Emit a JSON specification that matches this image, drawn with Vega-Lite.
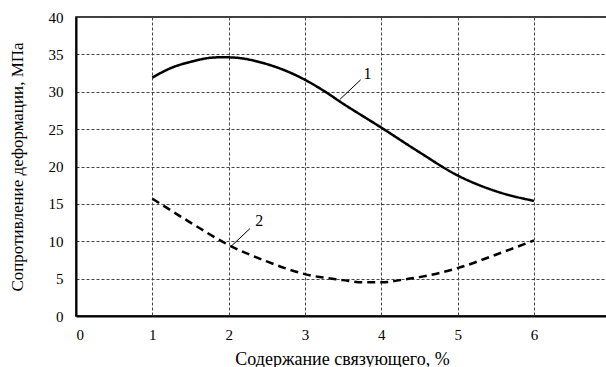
{
  "$schema": "https://vega.github.io/schema/vega-lite/v6.json",
  "width": 532,
  "height": 299,
  "autosize": {"type": "none"},
  "padding": {"left": 76, "top": 17, "right": 0, "bottom": 51},
  "background": "white",
  "config": {
    "view": {"stroke": "black", "strokeWidth": 1.5},
    "font": "'Liberation Serif', 'Times New Roman', serif",
    "axis": {
      "labelFont": "'Liberation Serif', 'Times New Roman', serif",
      "titleFont": "'Liberation Serif', 'Times New Roman', serif",
      "labelFontSize": 15,
      "titleFontSize": 17,
      "titleFontWeight": "normal",
      "labelColor": "black",
      "titleColor": "black",
      "domainColor": "black",
      "domainWidth": 2,
      "ticks": false,
      "labelOverlap": false,
      "gridColor": "#444",
      "gridDash": [3, 2],
      "gridWidth": 1,
      "gridOpacity": 1
    }
  },
  "datasets": {
    "curves": [
      {"x": 1, "y": 31.9, "s": "1"},
      {"x": 1.25, "y": 33.2, "s": "1"},
      {"x": 1.5, "y": 34.0, "s": "1"},
      {"x": 1.85, "y": 34.6, "s": "1"},
      {"x": 2, "y": 34.6, "s": "1"},
      {"x": 2.5, "y": 33.7, "s": "1"},
      {"x": 3, "y": 31.6, "s": "1"},
      {"x": 3.25, "y": 30.1, "s": "1"},
      {"x": 3.5, "y": 28.4, "s": "1"},
      {"x": 4, "y": 25.2, "s": "1"},
      {"x": 4.5, "y": 21.9, "s": "1"},
      {"x": 5, "y": 18.8, "s": "1"},
      {"x": 5.5, "y": 16.7, "s": "1"},
      {"x": 6, "y": 15.4, "s": "1"},
      {"x": 1, "y": 15.7, "s": "2"},
      {"x": 1.5, "y": 12.5, "s": "2"},
      {"x": 2, "y": 9.5, "s": "2"},
      {"x": 2.5, "y": 7.3, "s": "2"},
      {"x": 3, "y": 5.6, "s": "2"},
      {"x": 3.5, "y": 4.8, "s": "2"},
      {"x": 3.75, "y": 4.5, "s": "2"},
      {"x": 4, "y": 4.5, "s": "2"},
      {"x": 4.25, "y": 4.8, "s": "2"},
      {"x": 4.5, "y": 5.2, "s": "2"},
      {"x": 5, "y": 6.4, "s": "2"},
      {"x": 5.5, "y": 8.2, "s": "2"},
      {"x": 6, "y": 10.1, "s": "2"}
    ],
    "leaders": [
      {"x": 3.46, "y": 29.0, "x2": 3.73, "y2": 31.6},
      {"x": 2.03, "y": 9.3, "x2": 2.28, "y2": 11.7}
    ],
    "labels": [
      {"x": 3.82, "y": 32.4, "t": "1"},
      {"x": 2.4, "y": 12.7, "t": "2"}
    ]
  },
  "encoding": {
    "x": {
      "field": "x", "type": "quantitative",
      "scale": {"domain": [0, 6.97], "nice": false, "zero": false},
      "axis": {"values": [0, 1, 2, 3, 4, 5, 6], "title": "Содержание связующего, %", "titleFontSize": 18, "labelPadding": 11, "titlePadding": 8, "format": "d"}
    },
    "y": {
      "field": "y", "type": "quantitative",
      "scale": {"domain": [0, 40], "nice": false},
      "axis": {"values": [0, 5, 10, 15, 20, 25, 30, 35, 40], "title": "Сопротивление деформации, МПа", "labelPadding": 13, "titlePadding": 22, "format": "d"}
    }
  },
  "layer": [
    {
      "data": {"name": "curves"},
      "mark": {"type": "line", "interpolate": "monotone", "color": "black", "strokeWidth": 2.5},
      "encoding": {
        "strokeDash": {
          "field": "s", "type": "nominal",
          "scale": {"domain": ["1", "2"], "range": [[1, 0], [8, 5]]},
          "legend": null
        }
      }
    },
    {
      "data": {"name": "leaders"},
      "mark": {"type": "rule", "color": "black", "strokeWidth": 1},
      "encoding": {
        "x2": {"field": "x2"},
        "y2": {"field": "y2"}
      }
    },
    {
      "data": {"name": "labels"},
      "mark": {"type": "text", "font": "'Liberation Serif', 'Times New Roman', serif", "fontSize": 16, "color": "black"},
      "encoding": {
        "text": {"field": "t"}
      }
    }
  ]
}
